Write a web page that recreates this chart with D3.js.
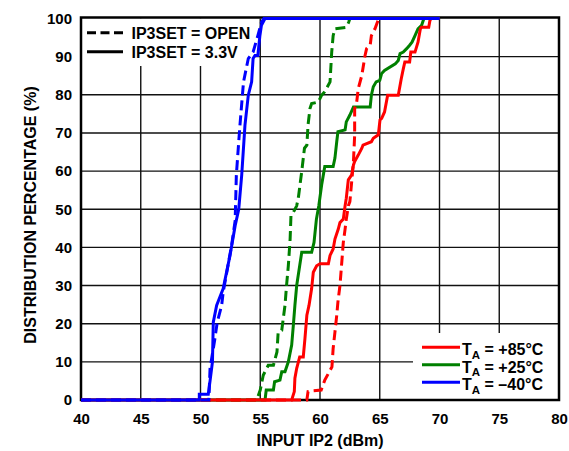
<!DOCTYPE html>
<html>
<head>
<meta charset="utf-8">
<script src="https://cdn.jsdelivr.net/npm/d3@7/dist/d3.min.js"></script>
<style>
  html, body { margin: 0; padding: 0; background: #fff; }
  svg { display: block; }
  text { font-family: "Liberation Sans", Arial, Helvetica, sans-serif; font-weight: bold; fill: #000; }
</style>
</head>
<body>
<svg id="chart" width="569" height="451"></svg>
<script>
// ---- Data ----
const xTicks = [40, 45, 50, 55, 60, 65, 70, 75, 80];
const yTicks = [0, 10, 20, 30, 40, 50, 60, 70, 80, 90, 100];
const xTitle = "INPUT IP2 (dBm)";
const yTitle = "DISTRIBUTION PERCENTAGE (%)";
const setLabels = ["IP3SET = OPEN", "IP3SET = 3.3V"];
const tempLabels = ["+85°C", "+25°C", "\u201340°C"];
const tempColors = ["#ff0000", "#008000", "#0000ff"];

// [input IP2 dBm, cumulative %]
const red85Open = [[40,0],[58.9,0],[59.0,2.2],[59.4,2.4],[60.1,2.6],[60.4,5.2],[61.0,8.7],[61.1,13.5],[61.25,17.8],[61.4,22.2],[61.5,25.7],[61.67,30],[61.8,35.2],[61.95,41.3],[62.1,44.8],[62.2,47.4],[62.37,50.9],[62.5,52],[62.65,57.2],[62.8,62.5],[62.9,69.4],[62.9,76.4],[63.07,78.1],[63.2,81.6],[63.5,85.1],[63.77,90.3],[63.9,92.1],[64.2,93],[64.3,95.5],[64.6,97.3],[64.8,99],[64.9,100],[70,100]];
const red85Set = [[40,0],[57.63,0],[57.85,2.2],[57.9,5.7],[58.05,8.3],[58.3,11.3],[58.6,11.3],[58.74,16.1],[58.9,22.2],[59.08,24.8],[59.3,29.2],[59.44,33.5],[59.72,35.2],[60.0,35.7],[60.7,35.7],[60.84,37.9],[61.1,39.6],[61.25,42.2],[61.53,44.8],[61.67,46.5],[61.95,47.4],[62.1,50.9],[62.2,52.9],[62.37,57.7],[62.65,59],[62.8,61.6],[62.9,62.5],[63.2,64.2],[63.5,66],[63.6,66.8],[64.3,67.7],[64.46,68.6],[64.88,69.5],[65.02,73.4],[65.16,73.8],[65.4,75.5],[65.66,79.9],[66.55,79.9],[66.8,84.2],[66.97,86.8],[67.1,88.6],[67.5,88.6],[67.6,91.2],[67.95,91.2],[68.2,93.8],[68.4,97.3],[68.5,97.7],[69.1,97.7],[69.2,99.5],[69.3,100],[70,100]];
const green25Open = [[40,0],[54.7,0],[55.0,2.6],[55.25,6.5],[55.67,9.1],[56.1,9.1],[56.4,12.6],[56.5,17.8],[56.8,18.3],[57.07,24.8],[57.2,30],[57.35,35.2],[57.5,42.2],[57.57,48.3],[57.77,49.2],[58.05,50.9],[58.2,53.3],[58.47,59.9],[58.7,66],[58.9,66.8],[59.0,72.1],[59.16,76.4],[59.3,77.7],[59.86,78.1],[60.14,79.9],[60.4,80.8],[60.84,83.4],[60.98,91.2],[61.1,95.5],[61.25,97.3],[62.2,97.7],[62.4,99],[62.5,100],[70,100]];
const green25Set = [[40,0],[55.4,0],[55.5,2.6],[56.1,2.6],[56.2,4.8],[56.65,5.2],[56.8,7.4],[57.07,7.4],[57.35,10],[57.63,14.4],[57.77,19.6],[57.9,24.8],[58.05,30],[58.3,35.2],[58.47,38.7],[59.3,38.7],[59.5,41.3],[59.7,47.4],[59.9,50.9],[60.14,56.4],[60.4,61.2],[61.1,61.2],[61.25,63.4],[61.4,67.7],[61.5,70.3],[62.1,70.8],[62.2,72.9],[62.5,74.7],[62.8,76.8],[64.2,76.8],[64.3,79.9],[64.46,82.1],[64.7,83.4],[65.0,83.8],[65.16,85.6],[65.4,86.4],[66.3,88.1],[66.55,89],[66.7,90.8],[66.97,91.2],[67.25,92.1],[67.5,93],[67.7,93.8],[67.95,95.5],[68.2,97.3],[68.5,98.2],[68.64,99.5],[68.7,100],[70,100]];
const blueM40Open = [[40,0],[50.7,0],[50.8,8.3],[51.2,16],[51.4,20.4],[51.77,24.8],[51.9,28.3],[52.2,33.5],[52.6,40.5],[52.9,47],[53.0,59],[53.3,72],[53.6,83.4],[54.0,89.5],[54.4,91.2],[54.8,95.5],[55.1,99],[55.3,100],[70,100]];
const blueM40Set = [[40,0],[49.9,0],[49.9,1.5],[50.65,1.5],[50.8,5],[51.0,10],[51.07,20.4],[51.35,24.8],[51.9,29.2],[52.47,37.9],[52.9,45.7],[53.2,50],[53.45,59],[53.72,72],[54.0,79.9],[54.28,83.4],[54.4,89.5],[54.56,90.3],[54.8,90.3],[54.97,95.5],[55.1,98.2],[55.4,100],[70,100]];

const series = [
  { data: green25Open, color: tempColors[1], dashed: true },
  { data: green25Set,  color: tempColors[1], dashed: false },
  { data: red85Open,   color: tempColors[0], dashed: true },
  { data: red85Set,    color: tempColors[0], dashed: false },
  { data: blueM40Open, color: tempColors[2], dashed: true },
  { data: blueM40Set,  color: tempColors[2], dashed: false }
];

// ---- Layout ----
const svg = d3.select("#chart");
const L = 81, R = 559, T = 18.5, B = 400;
const x = d3.scaleLinear().domain([40, 80]).range([L, R]);
const y = d3.scaleLinear().domain([0, 100]).range([B, T]);

// gridlines
const grid = svg.append("g");
grid.selectAll("line.v").data(xTicks.slice(1, -1)).join("line")
  .attr("x1", d => x(d)).attr("x2", d => x(d)).attr("y1", T).attr("y2", B)
  .attr("stroke", "#111").attr("stroke-width", 1.4);
grid.selectAll("line.h").data(yTicks.slice(1, -1)).join("line")
  .attr("x1", L).attr("x2", R).attr("y1", d => y(d)).attr("y2", d => y(d))
  .attr("stroke", "#111").attr("stroke-width", 1.4);

// legend backgrounds (hide gridlines)
svg.append("rect").attr("x", L).attr("y", T).attr("width", 253 - L).attr("height", 66 - T).attr("fill", "#fff");
svg.append("rect").attr("x", 413).attr("y", 333).attr("width", R - 413).attr("height", B - 333).attr("fill", "#fff");

// frame
svg.append("rect").attr("x", L).attr("y", 17.5).attr("width", R - L).attr("height", B - 17.5)
  .attr("fill", "none").attr("stroke", "#000").attr("stroke-width", 2.5);

// axes
const xAxis = svg.append("g").attr("transform", `translate(0,${B})`)
  .call(d3.axisBottom(x).tickValues(xTicks).tickSize(0).tickPadding(13).tickFormat(d3.format("d")));
xAxis.select(".domain").remove();
xAxis.selectAll("text").style("font-size", "15px").style("font-family", "'Liberation Sans', Arial, sans-serif").style("font-weight", "bold").attr("fill", "#000");

const yAxis = svg.append("g").attr("transform", `translate(${L},0)`)
  .call(d3.axisLeft(y).tickValues(yTicks).tickSize(0).tickPadding(9).tickFormat(d3.format("d")));
yAxis.select(".domain").remove();
yAxis.selectAll("text").style("font-size", "15px").style("font-family", "'Liberation Sans', Arial, sans-serif").style("font-weight", "bold").attr("fill", "#000");

// axis titles
svg.append("text").attr("x", 320).attr("y", 446).attr("text-anchor", "middle")
  .style("font-size", "16px").text(xTitle);
svg.append("text").attr("transform", "translate(36,215) rotate(-90)").attr("text-anchor", "middle")
  .style("font-size", "16px").text(yTitle);

// curves
const line = d3.line().x(d => x(d[0])).y(d => y(d[1]));
svg.append("g").selectAll("path").data(series).join("path")
  .attr("d", d => line(d.data))
  .attr("fill", "none")
  .attr("stroke", d => d.color)
  .attr("stroke-width", 3)
  .attr("stroke-linejoin", "miter")
  .attr("stroke-dasharray", d => d.dashed ? "10,5" : null);

// legend: IP3SET styles
const lg1 = svg.append("g");
setLabels.forEach((lab, i) => {
  const cy = 32.7 + i * 19;
  lg1.append("line").attr("x1", 87).attr("x2", 123).attr("y1", cy).attr("y2", cy)
    .attr("stroke", "#000").attr("stroke-width", 3)
    .attr("stroke-dasharray", i === 0 ? "9,4.5" : null);
  lg1.append("text").attr("x", 131.5).attr("y", cy + 5.8).style("font-size", "16px").text(lab);
});

// legend: temperatures
const lg2 = svg.append("g");
tempLabels.forEach((lab, i) => {
  const cy = 347.3 + i * 17.5;
  lg2.append("line").attr("x1", 422).attr("x2", 460).attr("y1", cy).attr("y2", cy)
    .attr("stroke", tempColors[i]).attr("stroke-width", 3);
  const t = lg2.append("text").attr("x", 462).attr("y", cy + 7.7).style("font-size", "16px");
  t.append("tspan").text("T");
  t.append("tspan").attr("dy", 3.5).style("font-size", "11.5px").text("A");
  t.append("tspan").attr("dy", -3.5).text(" = " + lab);
});
</script>
</body>
</html>
